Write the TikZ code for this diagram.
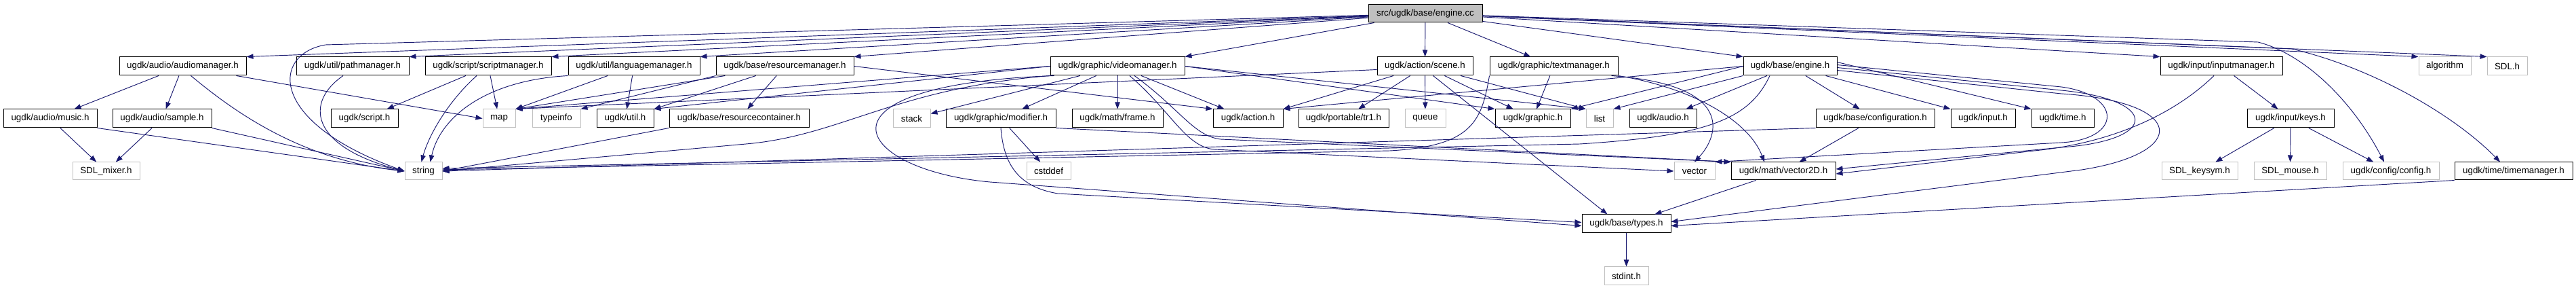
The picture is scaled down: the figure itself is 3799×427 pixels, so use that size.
\documentclass[tikz,border=0pt]{standalone}
\usepackage{fontspec}
\setmainfont{Liberation Sans}
\usetikzlibrary{arrows.meta,calc}
\definecolor{edgeblue}{RGB}{25,25,112}
\definecolor{boxgray}{RGB}{191,191,191}
\newcommand\mkbox[7]{\node[#1, minimum width={(#4-#2)*0.75pt}, minimum height={(#5-#3)*0.75pt}] (#6) at ({(#2+#4)/2},{(#3+#5)/2}) {#7};}
\begin{document}
\begin{tikzpicture}[x=0.75pt,y=-0.75pt,
  hb/.style={draw=black, line width=0.75pt, fill=white, rectangle, inner sep=1pt, font=\fontsize{10pt}{12pt}\selectfont},
  gb/.style={hb, draw=boxgray},
  rb/.style={hb, fill=boxgray},
  dep/.style={draw=edgeblue, line width=0.7pt, -{Triangle[length=7.5pt,width=5.5pt]}}]
\useasboundingbox[fill=white] (0,0) rectangle (3799,427);
% row 0
\mkbox{rb}{2018}{7}{2186}{33}{cc}{src/ugdk/base/engine.cc}
% row 1
\mkbox{hb}{176}{84}{363}{111}{am}{ugdk/audio/audiomanager.h}
\mkbox{hb}{437}{84}{603}{111}{pm}{ugdk/util/pathmanager.h}
\mkbox{hb}{627}{84}{813}{111}{sm}{ugdk/script/scriptmanager.h}
\mkbox{hb}{838}{84}{1032}{111}{lm}{ugdk/util/languagemanager.h}
\mkbox{hb}{1056}{84}{1259}{111}{rm}{ugdk/base/resourcemanager.h}
\mkbox{hb}{1549}{84}{1747}{111}{vm}{ugdk/graphic/videomanager.h}
\mkbox{hb}{2031}{84}{2172}{111}{sc}{ugdk/action/scene.h}
\mkbox{hb}{2197}{84}{2386}{111}{tm}{ugdk/graphic/textmanager.h}
\mkbox{hb}{2571}{84}{2709}{111}{eh}{ugdk/base/engine.h}
\mkbox{hb}{3186}{84}{3366}{111}{im}{ugdk/input/inputmanager.h}
\mkbox{gb}{3567}{84}{3644}{111}{alg}{algorithm}
\mkbox{gb}{3668}{84}{3727}{111}{sdl}{SDL.h}
% row 2
\mkbox{hb}{5}{161}{143}{188}{mus}{ugdk/audio/music.h}
\mkbox{hb}{166}{161}{312}{188}{smp}{ugdk/audio/sample.h}
\mkbox{hb}{488}{161}{587}{188}{scr}{ugdk/script.h}
\mkbox{gb}{712}{161}{760}{188}{map}{map}
\mkbox{gb}{785}{161}{856}{188}{ti}{typeinfo}
\mkbox{hb}{880}{161}{964}{188}{uh}{ugdk/util.h}
\mkbox{hb}{987}{161}{1193}{188}{rc}{ugdk/base/resourcecontainer.h}
\mkbox{gb}{1317}{161}{1372}{188}{stk}{stack}
\mkbox{hb}{1395}{161}{1557}{188}{mod}{ugdk/graphic/modifier.h}
\mkbox{hb}{1581}{161}{1715}{188}{frm}{ugdk/math/frame.h}
\mkbox{hb}{1789}{161}{1892}{188}{act}{ugdk/action.h}
\mkbox{hb}{1915}{161}{2048}{188}{tr1}{ugdk/portable/tr1.h}
\mkbox{gb}{2072}{161}{2132}{188}{que}{queue}
\mkbox{hb}{2205}{161}{2316}{188}{gh}{ugdk/graphic.h}
\mkbox{gb}{2339}{161}{2379}{188}{lst}{list}
\mkbox{hb}{2403}{161}{2502}{188}{au}{ugdk/audio.h}
\mkbox{hb}{2678}{161}{2853}{188}{cfg}{ugdk/base/configuration.h}
\mkbox{hb}{2877}{161}{2972}{188}{inp}{ugdk/input.h}
\mkbox{hb}{2996}{161}{3088}{188}{tim}{ugdk/time.h}
\mkbox{hb}{3314}{161}{3442}{188}{keys}{ugdk/input/keys.h}
% row 3
\mkbox{gb}{107}{239}{206}{265}{mix}{SDL\_mixer.h}
\mkbox{gb}{597}{239}{652}{265}{str}{string}
\mkbox{gb}{1514}{239}{1579}{265}{csd}{cstddef}
\mkbox{gb}{2469}{239}{2529}{265}{vec}{vector}
\mkbox{hb}{2553}{239}{2707}{265}{v2d}{ugdk/math/vector2D.h}
\mkbox{gb}{3188}{239}{3300}{265}{ks}{SDL\_keysym.h}
\mkbox{gb}{3324}{239}{3431}{265}{ms}{SDL\_mouse.h}
\mkbox{gb}{3455}{239}{3597}{265}{conf}{ugdk/config/config.h}
\mkbox{hb}{3620}{239}{3794}{265}{tmm}{ugdk/time/timemanager.h}
% rows 4,5
\mkbox{hb}{2333}{316}{2464}{343}{typ}{ugdk/base/types.h}
\mkbox{gb}{2366}{393}{2431}{420}{std}{stdint.h}

% engine.cc
\draw[dep] (cc) -- (am.north east);
\draw[dep] (cc) -- (pm.north east);
\draw[dep] (cc) -- (sm.north east);
\draw[dep] (cc) -- (lm.north east);
\draw[dep] (cc) -- (rm.north east);
\draw[dep] (cc) -- (vm.north east);
\draw[dep] (cc) -- (sc);
\draw[dep] (cc) -- (tm);
\draw[dep] (cc) -- (eh.north west);
\draw[dep] (cc) -- (im.north west);
\draw[dep] (cc) -- (alg.north west);
\draw[dep] (cc) -- (sdl.north west);
\draw[dep] (cc) -- (3330,62) .. controls (3400,80) and (3470,150) .. ($(conf.north)+(-10,0)$);
\draw[dep] (cc) -- (3380,72) .. controls (3500,100) and (3620,170) .. ($(tmm.north)+(-20,0)$);
\draw[dep] (cc) -- (480,66) .. controls (400,80) and (395,180) .. (str.west);
% audiomanager
\draw[dep] (am) -- (mus);
\draw[dep] (am) -- (smp);
\draw[dep] ($(am.south)+(12,0)$) .. controls (340,160) and (440,235) .. (str.west);
\draw[dep] ($(am.south east)+(-15,0)$) -- (map.west);
% music, sample
\draw[dep] (mus) -- (mix);
\draw[dep] (mus.south east) -- (str.west);
\draw[dep] (smp) -- (mix);
\draw[dep] (smp.south east) -- (str.west);
% pathmanager
\draw[dep] ($(pm.south)+(-14,0)$) .. controls (450,150) and (455,215) .. (str.west);
% scriptmanager
\draw[dep] (sm) -- (scr);
\draw[dep] ($(sm.south)+(-17,0)$) .. controls (660,150) and (632,200) .. ($(str.north)+(-3,0)$);
\draw[dep] ($(sm.south)+(3,0)$) -- (map);
% languagemanager
\draw[dep] (lm.south west) .. controls (720,118) and (650,170) .. ($(str.north)+(10,0)$);
\draw[dep] (lm) -- (map.north east);
\draw[dep] (lm) -- (uh);
% resourcemanager
\draw[dep] (rm) -- (map.north east);
\draw[dep] (rm.south west) -- (ti.north east);
\draw[dep] (rm) -- (uh.north east);
\draw[dep] (rm) -- (rc);
\draw[dep] (rm.east) -- (act.north west);
% resourcecontainer
\draw[dep] (rc.south west) -- (str.east);
% videomanager
\draw[dep] (vm.south west) .. controls (1320,130) and (1240,200) .. (1100,212) -- (str.east);
\draw[dep] ($(vm.south west)+(6,0)$) .. controls (1180,125) and (1260,250) .. (1460,268) -- ($(typ.west)+(0,3)$);
\draw[dep] (vm) -- (stk);
\draw[dep] (vm) -- (mod);
\draw[dep] (vm) -- (frm);
\draw[dep] (vm) -- (act);
\draw[dep] ($(vm.south)+(25,0)$) .. controls (1740,160) and (1760,200) .. (1800,205) -- (v2d.north west);
\draw[dep] ($(vm.south)+(18,0)$) .. controls (1728,165) and (1748,215) .. (1790,220) -- (vec.west);
\draw[dep] (vm.west) -- (map.north east);
\draw[dep] (vm.west) -- (uh.north east);
\draw[dep] (vm.east) -- (gh.north west);
\draw[dep] (vm.east) -- (lst.north west);
% scene
\draw[dep] (sc) -- (tr1);
\draw[dep] (sc) -- (que);
\draw[dep] (sc) -- (gh);
\draw[dep] (sc) -- (act.north east);
\draw[dep] (sc) -- (lst.north west);
\draw[dep] ($(sc.south)+(12,0)$) -- ($(typ.north)+(-28,0)$);
\draw[dep] ($(sc.west)+(0,5)$) -- (map.north east);
% textmanager
\draw[dep] (tm) -- (gh);
\draw[dep] (tm.south east) .. controls (2500,130) and (2580,180) .. ($(v2d.north)+(-28,0)$);
\draw[dep] ($(tm.south east)+(-10,0)$) .. controls (2560,125) and (2535,200) .. (vec.north);
\draw[dep] (tm.south west) .. controls (2185,180) and (2170,215) .. (2050,222) -- ($(str.east)+(0,-2)$);
% engine.h
\draw[dep] (eh.south west) -- (lst.north east);
\draw[dep] (eh) -- (au);
\draw[dep] (eh.west) -- (act.north east);
\draw[dep] (eh.west) -- (gh.north east);
\draw[dep] (eh) -- (cfg);
\draw[dep] (eh) -- (inp.north west);
\draw[dep] ($(eh.east)+(0,-6)$) -- (tim.north west);
\draw[dep] ($(eh.south)+(-30,0)$) .. controls (2580,175) and (2520,200) .. (2330,212) -- ($(str.east)+(0,-4)$);
\draw[dep] ($(eh.east)+(0,-2)$) -- (3040,128) .. controls (3130,140) and (3130,205) .. (3040,210) -- (vec.north east);
\draw[dep] ($(eh.east)+(0,2)$) -- (3040,133) .. controls (3185,147) and (3185,207) .. (3040,217) -- ($(v2d.east)+(0,-3)$);
\draw[dep] ($(eh.east)+(0,6)$) -- (3040,138) .. controls (3225,150) and (3230,225) .. (3070,250) -- ($(typ.east)+(0,-3)$);
% configuration
\draw[dep] (cfg) -- (v2d);
\draw[dep] (cfg.south west) -- (str.east);
% input
\draw[dep] (im) -- (keys);
\draw[dep] ($(im.south)+(-11,0)$) .. controls (3210,165) and (3120,210) .. (3000,222) -- ($(v2d.east)+(0,4)$);
\draw[dep] (keys) -- (ks);
\draw[dep] (keys) -- (ms);
\draw[dep] (keys) -- (conf);
% time manager, math, types
\draw[dep] (tmm.south west) -- ($(typ.east)+(0,3)$);
\draw[dep] (v2d) -- (typ);
\draw[dep] (typ) -- (std);
% modifier
\draw[dep] (mod) -- (csd);
\draw[dep] (mod.south) .. controls (1480,240) and (1500,275) .. (1560,285) -- ($(typ.west)+(0,-2)$);
\draw[dep] (mod.south east) -- (v2d.north west);
\end{tikzpicture}
\end{document}
